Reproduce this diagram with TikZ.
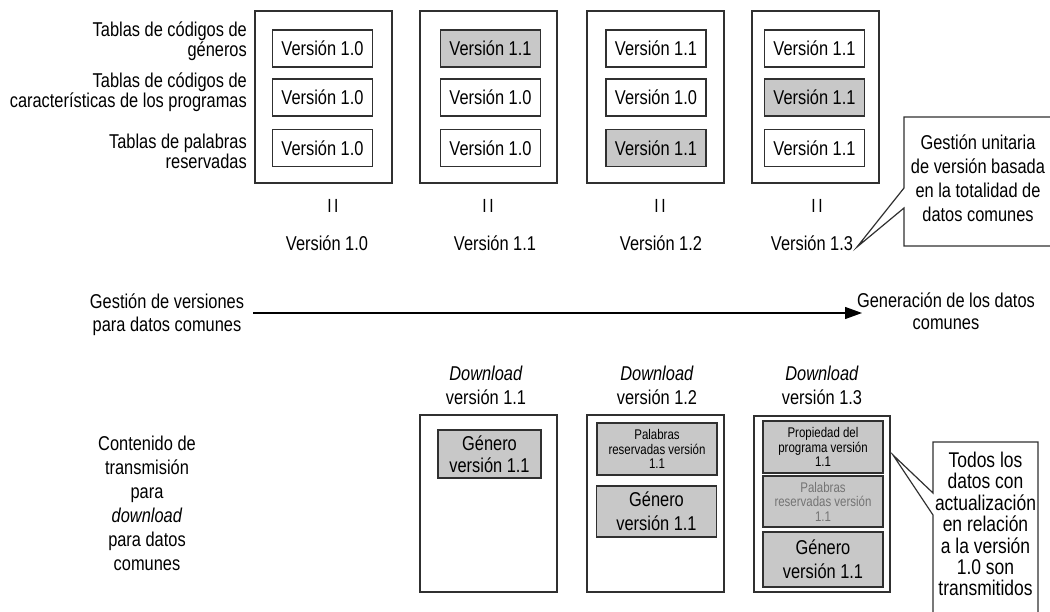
\documentclass[tikz,border=0pt]{standalone}
\usepackage{fontspec}
\setmainfont[FakeStretch=0.82]{Liberation Sans}
\usetikzlibrary{arrows.meta}
\definecolor{lcol}{HTML}{303030}
\definecolor{gfill}{HTML}{C8C8C8}
\begin{document}
\begin{tikzpicture}[x=1pt,y=-1pt,
  lc/.style={draw=lcol, line width=1.2pt},
  outer/.style={lc, fill=white, inner sep=0pt},
  txt/.style={font=\fontsize{20}{20}\selectfont, inner sep=0pt, align=center, text=black},
  vbox/.style={lc, txt, minimum width=100pt, minimum height=37pt},
  hl/.style={fill=gfill},
  small/.style={font=\fontsize{14}{14.5}\selectfont},
  eqs/.style={txt, font=\fontsize{19}{19}\selectfont},
  callout/.style={lc, fill=white}
]
\clip (0,0) rectangle (1050,612);
\fill[white] (0,0) rectangle (1050,612);

% ---------- top: version tables ----------
\node[outer, minimum width=137pt, minimum height=172pt] (t1) at (323.5,97) {};
\node[outer, minimum width=137pt, minimum height=172pt] (t2) at (488.5,97) {};
\node[outer, minimum width=137pt, minimum height=172pt] (t3) at (655.5,97) {};
\node[outer, minimum width=127pt, minimum height=172pt] (t4) at (815.5,97) {};

\node[vbox] (t1a) at (322.5,48.5) {Versión 1.0};
\node[vbox] (t1b) at (322.5,97.5) {Versión 1.0};
\node[vbox] (t1c) at (322.5,148) {Versión 1.0};

\node[vbox,hl] (t2a) at (490.5,48.5) {Versión 1.1};
\node[vbox] (t2b) at (490.5,97.5) {Versión 1.0};
\node[vbox] (t2c) at (490.5,148) {Versión 1.0};

\node[vbox] (t3a) at (656,48.5) {Versión 1.1};
\node[vbox] (t3b) at (656,97.5) {Versión 1.0};
\node[vbox,hl] (t3c) at (656,148) {Versión 1.1};

\node[vbox] (t4a) at (814.5,48.5) {Versión 1.1};
\node[vbox,hl] (t4b) at (814.5,97.5) {Versión 1.1};
\node[vbox] (t4c) at (814.5,148) {Versión 1.1};

% row labels
\node[txt, align=right, anchor=east] (l1) at (247,41) {Tablas de códigos de\\géneros};
\node[txt, align=right, anchor=east] (l2) at (247,92) {Tablas de códigos de\\características de los programas};
\node[txt, align=right, anchor=east] (l3) at (247,151) {Tablas de palabras\\reservadas};

% equal signs
\node[eqs] (e1) at (333,206) {I\hspace{2.5pt}I};
\node[eqs] (e2) at (488,206) {I\hspace{2.5pt}I};
\node[eqs] (e3) at (660,206) {I\hspace{2.5pt}I};
\node[eqs] (e4) at (817,206) {I\hspace{2.5pt}I};

\node[txt] (v1) at (327,243) {Versión 1.0};
\node[txt] (v2) at (495,243) {Versión 1.1};
\node[txt] (v3) at (661,243) {Versión 1.2};
\node[txt] (v4) at (812,243) {Versión 1.3};

% top callout
\coordinate (c1tip) at (857,247);
\draw[callout] (904,117) -- (1060,117) -- (1060,246) -- (904,246) -- (904,208) -- (c1tip) -- (904,188) -- cycle;
\node[txt, font=\fontsize{20}{24}\selectfont] (c1) at (978,178) {Gestión unitaria\\de versión basada\\en la totalidad de\\datos comunes};

% ---------- middle arrow ----------
\node[txt, font=\fontsize{20}{23}\selectfont] (gv) at (167,315) {Gestión de versiones\\para datos comunes};
\node[txt, font=\fontsize{20}{22}\selectfont] (gd) at (946,311) {Generación de los datos\\comunes};
\coordinate (as) at (253,313);
\coordinate (ae) at (862,313);
\draw[draw=black, line width=1.2pt, -{Triangle[length=17pt,width=12pt]}] (as) -- (ae);

% ---------- bottom: download content ----------
\node[txt, font=\fontsize{20}{24}\selectfont] (cd) at (147,503) {Contenido de\\transmisión\\para\\\textit{download}\\para datos\\comunes};

\node[txt, font=\fontsize{20}{24}\selectfont] (d1) at (486,385) {\textit{Download}\\versión 1.1};
\node[txt, font=\fontsize{20}{24}\selectfont] (d2) at (657,385) {\textit{Download}\\versión 1.2};
\node[txt, font=\fontsize{20}{24}\selectfont] (d3) at (822,385) {\textit{Download}\\versión 1.3};

\node[outer, minimum width=137pt, minimum height=177pt] (b1) at (488.5,503.5) {};
\node[outer, minimum width=137pt, minimum height=177pt] (b2) at (655.5,503.5) {};
\node[outer, minimum width=136pt, minimum height=176pt] (b3) at (822,504) {};

\node[lc, hl, txt, font=\fontsize{20}{22}\selectfont, minimum width=103pt, minimum height=48pt] (b1g) at (489.5,454) {Género\\versión 1.1};

\node[lc, hl, txt, small, minimum width=120pt, minimum height=52pt] (b2p) at (657,449) {Palabras\\reservadas versión\\1.1};
\node[lc, hl, txt, font=\fontsize{20}{24}\selectfont, minimum width=120pt, minimum height=51pt] (b2g) at (656.5,511.5) {Género\\versión 1.1};

\node[lc, hl, txt, small, minimum width=120pt, minimum height=52pt] (b3p) at (823,447) {Propiedad del\\programa versión\\1.1};
\node[lc, hl, txt, small, text=black!55, minimum width=120pt, minimum height=51pt] (b3r) at (823,501.5) {Palabras\\reservadas versión\\1.1};
\node[lc, hl, txt, font=\fontsize{20}{24}\selectfont, minimum width=120pt, minimum height=55pt] (b3g) at (823,559.5) {Género\\versión 1.1};

% bottom callout
\coordinate (c2tip) at (893,455);
\draw[callout] (933,515) -- (933,620) -- (1038,620) -- (1038,442) -- (933,442) -- (933,493) -- (c2tip) -- cycle;
\node[txt, font=\fontsize{21.3}{21.4}\selectfont] (c2) at (985.5,524) {Todos los\\datos con\\actualización\\en relación\\a la versión\\1.0 son\\transmitidos};

\end{tikzpicture}
\end{document}
